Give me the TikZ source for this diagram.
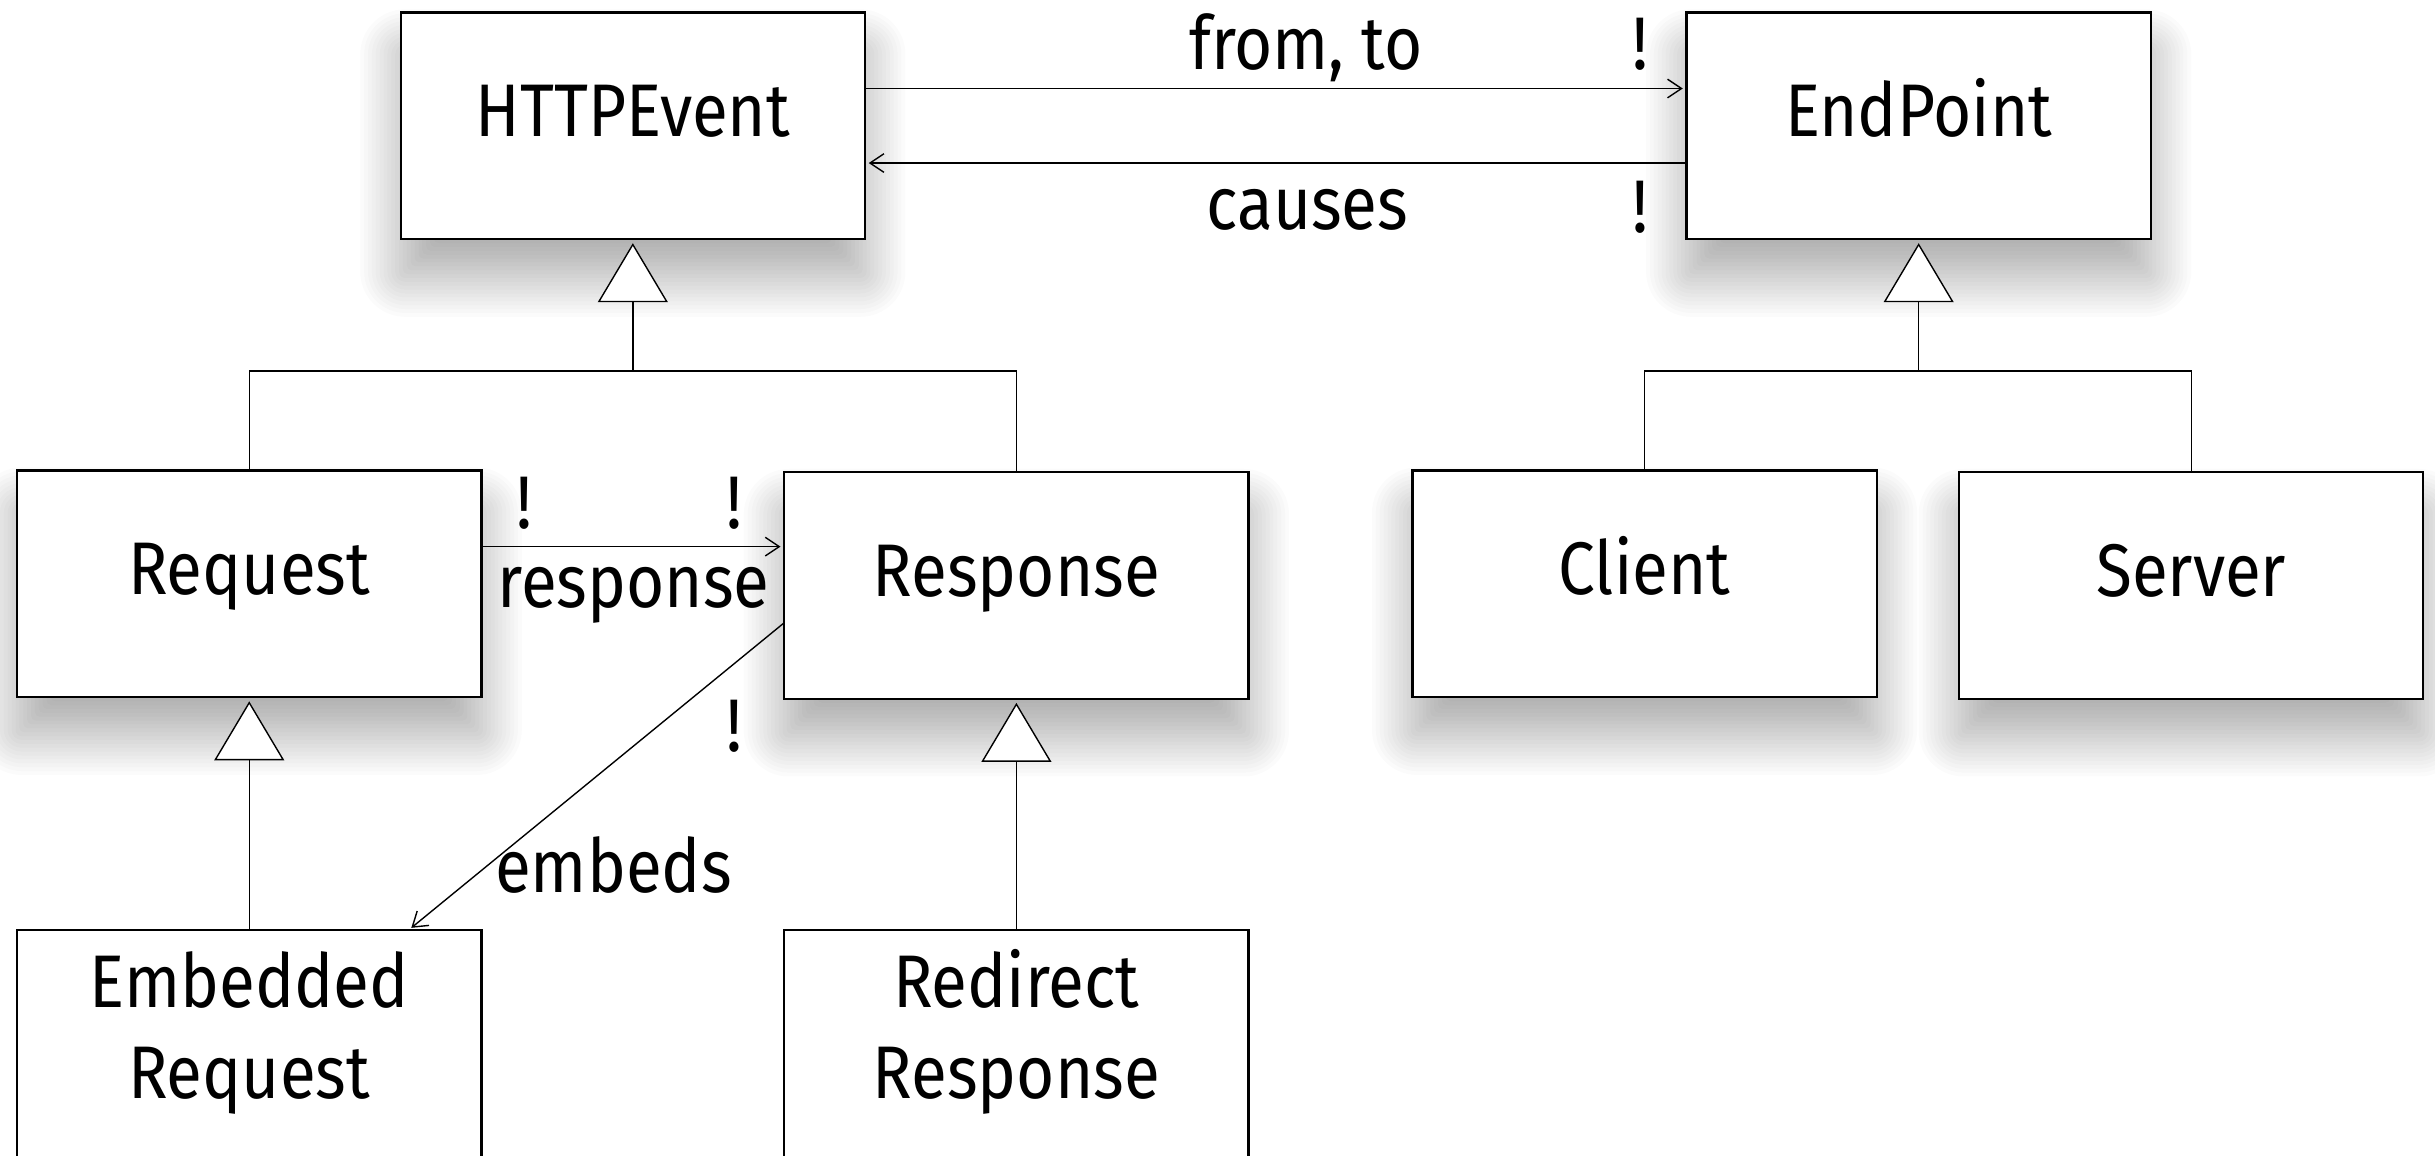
\documentclass[tikz,border=0pt]{standalone}
\usepackage{fontspec}
\setmainfont[FakeStretch=0.88]{Fira Sans}
\usetikzlibrary{arrows.meta}
\pgfdeclarelayer{background}
\pgfsetlayers{background,main}
\newcommand\dropshadow[1]{%
  \foreach \i in {0,...,19}{%
    \pgfmathsetmacro\dd{13-1.25*\i}%
    \pgfmathsetmacro\rc{max(\dd,0)+1.5}%
    \pgfmathsetmacro\ya{-12-\dd}%
    \pgfmathsetmacro\yb{-12+\dd}%
    \fill[black, fill opacity=0.016, rounded corners=\rc pt]
      ([xshift=-\dd pt, yshift=\ya pt]#1.south west) rectangle ([xshift=\dd pt, yshift=\yb pt]#1.north east);
  }}
\begin{document}
\begin{tikzpicture}[x=0.5pt,y=-0.5pt,
  cls/.style={draw, line width=0.7pt, fill=white, rectangle, minimum width=149.5pt, minimum height=73pt,
    inner sep=0pt, outer sep=0pt},
  txt/.style={anchor=base, inner sep=0pt, font=\fontsize{24}{29}\selectfont},
  conn/.style={line width=0.45pt},
  assoc/.style={conn, -{Straight Barb[length=4.5pt,width=6pt]}, shorten >=1.2pt},
  inh/.style={conn, -{Triangle[open, fill=white, length=19pt, width=22.5pt, line width=0.45pt]}, shorten >=1.3pt}
]
\useasboundingbox (0,0) rectangle (1568,744);

% class boxes
\node[cls] (httpevent) at (407.5,81) {};
\node[cls] (endpoint) at (1235.5,81) {};
\node[cls] (request) at (160.5,376) {};
\node[cls] (response) at (654.5,377) {};
\node[cls] (client) at (1059,376) {};
\node[cls] (server) at (1411,377) {};
\node[cls, minimum height=90pt] (embedded) at (160.5,689) {};
\node[cls, minimum height=90pt] (redirect) at (654.5,689) {};

\begin{pgfonlayer}{background}
  \fill[white] (0,0) rectangle (1568,744);
  \dropshadow{httpevent}
  \dropshadow{endpoint}
  \dropshadow{request}
  \dropshadow{response}
  \dropshadow{client}
  \dropshadow{server}
\end{pgfonlayer}

% class names
\node[txt] (t-http) at (407.5,88) {HTTPEvent};
\node[txt] (t-end) at (1235.5,88) {EndPoint};
\node[txt] (t-req) at (160.5,383) {Request};
\node[txt] (t-resp) at (654.5,384) {Response};
\node[txt] (t-client) at (1059,383) {Client};
\node[txt] (t-server) at (1411,384) {Server};
\node[txt] (t-emb1) at (160.5,649) {Embedded};
\node[txt] (t-emb2) at (160.5,707.5) {Request};
\node[txt] (t-red1) at (654.5,649) {Redirect};
\node[txt] (t-red2) at (654.5,707.5) {Response};

% associations
\draw[assoc] (httpevent.east |- 0,57) -- (endpoint.west |- 0,57);
\draw[assoc] (endpoint.west |- 0,105) -- (httpevent.east |- 0,105);
\draw[assoc] (request.east |- 0,352) -- (response.west |- 0,352);
\draw[assoc] (response.west |- 0,401) -- (embedded.north -| 263,0);

% association labels
\node[txt] (l-fromto) at (841,45) {from, to};
\node[txt] (m-fromto) at (1056,45) {!};
\node[txt] (l-causes) at (842,148) {causes};
\node[txt] (m-causes) at (1056,150) {!};
\node[txt] (m-req) at (337.5,340) {!};
\node[txt] (m-resp) at (473,340) {!};
\node[txt] (l-response) at (408,391) {response};
\node[txt] (m-embeds) at (473,484) {!};
\node[txt] (l-embeds) at (395,575) {embeds};

% generalisations
\coordinate (hj) at (407.5,239);
\draw[conn] (request.north) -- (request.north |- hj) -- (response.north |- hj) -- (response.north);
\draw[inh] (hj) -- (httpevent.south);
\coordinate (ej) at (1235.5,239);
\draw[conn] (client.north) -- (client.north |- ej) -- (server.north |- ej) -- (server.north);
\draw[inh] (ej) -- (endpoint.south);
\draw[inh] (embedded.north) -- (request.south);
\draw[inh] (redirect.north) -- (response.south);
\end{tikzpicture}
\end{document}
